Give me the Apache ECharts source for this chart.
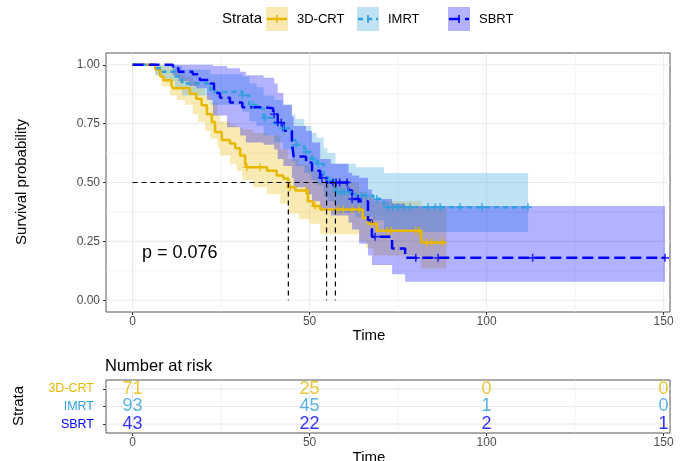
<!DOCTYPE html>
<html>
<head>
<meta charset="utf-8">
<script src="https://cdn.jsdelivr.net/npm/echarts@6/dist/echarts.min.js"></script>
<style>
  html, body { margin: 0; padding: 0; background: #fff; }
  #chart { width: 684px; height: 461px; }
</style>
</head>
<body>
<div id="chart"></div>
<script>
var groups = ['3D-CRT', 'IMRT', 'SBRT'];
var colors = ['#E7B800', '#2E9FDF', '#0000FF'];
var bandColors = ['rgba(231,184,0,0.3)', 'rgba(46,159,223,0.3)', 'rgba(0,0,255,0.3)'];

// Kaplan-Meier steps (time, survival)
var crtTime = [0, 6.4, 7.8, 8.7, 11, 11.5, 16.2, 18, 19.5, 21, 22.4, 23.3, 25.2, 27.5, 29, 30.4, 31.8, 32.3, 38, 40.7, 42.6, 44, 46, 49.5, 51, 53, 65, 66.5, 69, 81.5, 88.6];
var crtSurv = [1, 0.98, 0.95, 0.934, 0.913, 0.90, 0.877, 0.856, 0.828, 0.79, 0.757, 0.714, 0.68, 0.666, 0.645, 0.615, 0.58, 0.565, 0.55, 0.53, 0.517, 0.48, 0.466, 0.42, 0.40, 0.385, 0.35, 0.325, 0.295, 0.245, 0.245];
var imrtTime = [0, 6.5, 8.5, 12, 14, 22, 31, 33, 35, 37, 40, 42.5, 45, 46, 48.5, 50.5, 52, 54, 55, 57.3, 63, 68, 71, 111.7];
var imrtSurv = [1, 0.985, 0.97, 0.95, 0.92, 0.885, 0.87, 0.83, 0.815, 0.775, 0.75, 0.73, 0.68, 0.66, 0.63, 0.60, 0.58, 0.53, 0.51, 0.46, 0.445, 0.43, 0.395, 0.395];
var sbrtTime = [0, 11.4, 13, 17, 19, 22, 23, 24.7, 27.5, 31, 37, 39.7, 41, 42.6, 45, 45.5, 49, 50.7, 53, 54.8, 61, 62, 64, 66.5, 67.6, 73.3, 77, 150.4];
var sbrtSurv = [1, 0.985, 0.97, 0.96, 0.935, 0.92, 0.88, 0.86, 0.84, 0.82, 0.815, 0.79, 0.755, 0.72, 0.67, 0.61, 0.585, 0.55, 0.52, 0.50, 0.466, 0.43, 0.42, 0.34, 0.27, 0.22, 0.18, 0.18];

// confidence bands
var crtBandTime = [0, 6.4, 8.2, 10.6, 12.5, 14.8, 17, 18.5, 20.5, 22, 24, 24.7, 27.5, 29.4, 31, 34, 38, 41.7, 44, 47, 50, 53, 64, 66, 68, 81.5, 88.6];
var crtLower = [1, 0.955, 0.91, 0.87, 0.85, 0.83, 0.79, 0.757, 0.72, 0.687, 0.65, 0.615, 0.58, 0.55, 0.51, 0.48, 0.45, 0.41, 0.367, 0.345, 0.325, 0.28, 0.25, 0.22, 0.19, 0.135, 0.135];
var crtUpper = [1, 1, 0.995, 0.985, 0.97, 0.95, 0.93, 0.90, 0.87, 0.84, 0.79, 0.76, 0.745, 0.735, 0.725, 0.71, 0.70, 0.64, 0.60, 0.575, 0.55, 0.50, 0.46, 0.44, 0.42, 0.39, 0.39];
var imrtLower = [1, 0.955, 0.93, 0.90, 0.87, 0.83, 0.80, 0.76, 0.74, 0.70, 0.67, 0.64, 0.59, 0.57, 0.54, 0.51, 0.49, 0.44, 0.42, 0.37, 0.355, 0.34, 0.29, 0.29];
var imrtUpper = [1, 1, 1, 0.995, 0.98, 0.96, 0.95, 0.92, 0.905, 0.87, 0.85, 0.83, 0.79, 0.77, 0.74, 0.71, 0.69, 0.645, 0.625, 0.58, 0.565, 0.565, 0.54, 0.54];
var sbrtBandTime = [0, 11.4, 13, 16, 18, 21, 22.7, 26.7, 30.4, 32, 37, 40, 41, 42.6, 45, 45.5, 49, 50.7, 53, 56, 61, 62, 64, 66.5, 67.6, 73.3, 77, 150.4];
var sbrtLower = [1, 0.955, 0.93, 0.91, 0.90, 0.85, 0.785, 0.735, 0.70, 0.67, 0.66, 0.64, 0.60, 0.57, 0.52, 0.48, 0.45, 0.42, 0.39, 0.36, 0.33, 0.30, 0.24, 0.19, 0.15, 0.11, 0.078, 0.078];
var sbrtUpper = [1, 1, 1, 1, 1, 1, 0.995, 0.985, 0.97, 0.955, 0.945, 0.92, 0.88, 0.83, 0.78, 0.74, 0.72, 0.67, 0.60, 0.58, 0.54, 0.53, 0.52, 0.47, 0.43, 0.41, 0.40, 0.40];

// censoring times
var crtCensor = [32.3, 36, 44.5, 49, 51.5, 58, 59.5, 62, 64, 67.5, 72, 73, 80, 81, 83, 84.5, 87.5];
var imrtCensor = [31, 34, 37.5, 42.6, 46.2, 49, 51, 52.5, 55.5, 57.8, 58.8, 59.8, 61, 64.5, 66, 69, 72, 73.5, 75, 76.4, 78.4, 83.5, 85.5, 86.9, 92.5, 98.7, 111.7];
var sbrtCensor = [40, 41, 42, 53.5, 56.6, 57.5, 58.5, 60.6, 62, 63.7, 68.5, 80, 86.3, 113, 150.4];

var medianTimes = [44.0, 57.3, 54.8];
var pValueText = 'p = 0.076';

// number at risk
var riskTimes = [0, 50, 100, 150];
var riskCrt = [71, 25, 0, 0];
var riskImrt = [93, 45, 1, 0];
var riskSbrt = [43, 22, 2, 1];

var xTicks = [0, 50, 100, 150];
var xMinor = [25, 75, 125];
var yTicks = [0, 0.25, 0.5, 0.75, 1];
var yMinor = [0.125, 0.375, 0.625, 0.875];

var FONT = '"Liberation Sans", Arial, sans-serif';
var X_RANGE = [-7.5, 151.8];
var Y_RANGE = [-0.05, 1.05];
var PLUS = 'path://M-0.2,-1H0.2V-0.2H1V0.2H0.2V1H-0.2V0.2H-1V-0.2H-0.2Z';
var dashes = ['solid', [5, 4], [11, 5]];

function survAt(times, surv, t) {
  var s = surv[0];
  for (var i = 0; i < times.length; i++) {
    if (times[i] <= t) s = surv[i];
  }
  return s;
}

function gridSeries(idx, vLines, hLines, yRange) {
  var data = [];
  vLines.forEach(function (v) { data.push([0, v[0], v[1]]); });
  hLines.forEach(function (h) { data.push([1, h[0], h[1]]); });
  return {
    type: 'custom', xAxisIndex: idx, yAxisIndex: idx, z: 0, silent: true,
    data: data,
    renderItem: function (params, api) {
      var o = api.value(0), v = api.value(1), major = api.value(2);
      var p1, p2;
      if (o === 0) {
        p1 = api.coord([v, yRange[0]]); p2 = api.coord([v, yRange[1]]);
      } else {
        p1 = api.coord([X_RANGE[0], v]); p2 = api.coord([X_RANGE[1], v]);
      }
      return {
        type: 'line',
        shape: { x1: p1[0], y1: p1[1], x2: p2[0], y2: p2[1] },
        style: { stroke: '#EBEBEB', lineWidth: major ? 1.1 : 0.6 }
      };
    }
  };
}

function bandSeries(times, lower, upper, fill) {
  return {
    type: 'custom', xAxisIndex: 0, yAxisIndex: 0, z: 1, silent: true, clip: true,
    data: times.map(function (t, i) { return [t, lower[i], upper[i]]; }),
    encode: { x: 0, y: [1, 2] },
    renderItem: function (params, api) {
      if (params.dataIndex !== 0) return null;
      var pts = [];
      var n = times.length;
      for (var i = 0; i < n; i++) {
        pts.push(api.coord([times[i], upper[i]]));
        if (i < n - 1) pts.push(api.coord([times[i + 1], upper[i]]));
      }
      for (var j = n - 1; j >= 0; j--) {
        if (j < n - 1) pts.push(api.coord([times[j + 1], lower[j]]));
        pts.push(api.coord([times[j], lower[j]]));
      }
      return { type: 'polygon', shape: { points: pts }, style: { fill: fill } };
    }
  };
}

function curveSeries(name, times, surv, g) {
  return {
    name: name, type: 'line', step: 'end', z: 2, silent: true,
    xAxisIndex: 0, yAxisIndex: 0, showSymbol: false, symbol: 'none',
    data: times.map(function (t, i) { return [t, surv[i]]; }),
    lineStyle: { color: colors[g], width: 2.5, type: dashes[g] }
  };
}

function censorSeries(times, surv, censor, g) {
  return {
    type: 'scatter', z: 3, silent: true, xAxisIndex: 0, yAxisIndex: 0,
    symbol: PLUS, symbolSize: 8,
    itemStyle: { color: colors[g] },
    data: censor.map(function (t) { return [t, survAt(times, surv, t)]; })
  };
}

function riskSeries(counts, g) {
  return {
    type: 'scatter', xAxisIndex: 1, yAxisIndex: 1, z: 3, silent: true,
    symbolSize: 1, itemStyle: { color: 'rgba(0,0,0,0)' },
    data: riskTimes.map(function (t, i) { return [t, g + 1, counts[i]]; }),
    label: {
      show: true, position: 'inside', fontFamily: FONT, fontSize: 18, color: colors[g],
      formatter: function (p) { return String(p.value[2]); }
    }
  };
}

var medianSeries = {
  type: 'custom', xAxisIndex: 0, yAxisIndex: 0, z: 4, silent: true,
  data: medianTimes.map(function (m) { return [m, 0.5]; }),
  renderItem: function (params, api) {
    var m = api.value(0);
    var top = api.coord([m, 0.5]);
    var bottom = api.coord([m, 0]);
    var style = { stroke: '#000', lineWidth: 1.2, lineDash: [5, 4] };
    var children = [{ type: 'line', shape: { x1: top[0], y1: top[1], x2: bottom[0], y2: bottom[1] }, style: style }];
    if (params.dataIndex === 0) {
      var a = api.coord([0, 0.5]);
      var b = api.coord([Math.max.apply(null, medianTimes), 0.5]);
      children.push({ type: 'line', shape: { x1: a[0], y1: a[1], x2: b[0], y2: b[1] }, style: style });
    }
    return { type: 'group', children: children };
  }
};

var mainV = xTicks.map(function (v) { return [v, 1]; }).concat(xMinor.map(function (v) { return [v, 0]; }));
var mainH = yTicks.map(function (v) { return [v, 1]; }).concat(yMinor.map(function (v) { return [v, 0]; }));
var riskH = [[1, 1], [2, 1], [3, 1]];

function xAxisDef(gridIndex) {
  return {
    type: 'value', gridIndex: gridIndex, min: X_RANGE[0], max: X_RANGE[1], position: 'bottom',
    axisLine: { show: false, onZero: false }, splitLine: { show: false },
    axisTick: { show: true, customValues: xTicks, length: 3, lineStyle: { color: '#333', width: 1 } },
    axisLabel: { customValues: xTicks, color: '#4D4D4D', fontSize: 12, fontFamily: FONT, margin: 4 }
  };
}

// legend
var legendEls = [{
  type: 'text', x: 222, y: 19,
  style: { text: 'Strata', fontSize: 15, fontFamily: FONT, fill: '#000', verticalAlign: 'middle' }
}];
var keyX = [266, 357, 448];
groups.forEach(function (name, g) {
  var kx = keyX[g];
  legendEls.push({ type: 'rect', shape: { x: kx, y: 7, width: 22, height: 24 }, style: { fill: bandColors[g] } });
  legendEls.push({
    type: 'line', shape: { x1: kx + 1, y1: 19, x2: kx + 21, y2: 19 },
    style: { stroke: colors[g], lineWidth: 2.5, lineDash: g === 0 ? null : dashes[g] }
  });
  legendEls.push({
    type: 'line', shape: { x1: kx + 11, y1: 15, x2: kx + 11, y2: 23 },
    style: { stroke: colors[g], lineWidth: 1.6 }
  });
  legendEls.push({
    type: 'text', x: kx + 31, y: 19,
    style: { text: name, fontSize: 13, fontFamily: FONT, fill: '#000', verticalAlign: 'middle' }
  });
});

var chart = echarts.init(document.getElementById('chart'));
var option = {
  animation: false,
  backgroundColor: '#fff',
  grid: [
    { left: 106, top: 53, width: 564, height: 259, show: true, borderColor: '#555', borderWidth: 1 },
    { left: 106, top: 380, width: 564, height: 53, show: true, borderColor: '#555', borderWidth: 1 }
  ],
  xAxis: [xAxisDef(0), xAxisDef(1)],
  yAxis: [
    {
      type: 'value', gridIndex: 0, min: Y_RANGE[0], max: Y_RANGE[1], position: 'left',
      axisLine: { show: false, onZero: false }, splitLine: { show: false },
      axisTick: { show: true, customValues: yTicks, length: 3, lineStyle: { color: '#333', width: 1 } },
      axisLabel: {
        customValues: yTicks, color: '#4D4D4D', fontSize: 12, fontFamily: FONT, margin: 6,
        formatter: function (v) { return v.toFixed(2); }
      }
    },
    {
      type: 'value', gridIndex: 1, min: 0.5, max: 3.5, inverse: true, position: 'left',
      axisLine: { show: false, onZero: false }, splitLine: { show: false },
      axisTick: { show: true, customValues: [1, 2, 3], length: 3, lineStyle: { color: '#333', width: 1 } },
      axisLabel: {
        customValues: [1, 2, 3], margin: 12,
        formatter: function (v) { var i = Math.round(v) - 1; return '{g' + i + '|' + groups[i] + '}'; },
        rich: {
          g0: { color: colors[0], fontSize: 12.5, fontFamily: FONT },
          g1: { color: colors[1], fontSize: 12.5, fontFamily: FONT },
          g2: { color: colors[2], fontSize: 12.5, fontFamily: FONT }
        }
      }
    }
  ],
  graphic: legendEls.concat([
    { type: 'text', x: 142, y: 253, style: { text: pValueText, fontSize: 18, fontFamily: FONT, fill: '#000', verticalAlign: 'middle' } },
    { type: 'text', x: 22, y: 182, rotation: Math.PI / 2, style: { text: 'Survival probability', fontSize: 15, fontFamily: FONT, fill: '#000', align: 'center', verticalAlign: 'middle' } },
    { type: 'text', x: 369, y: 336, style: { text: 'Time', fontSize: 15, fontFamily: FONT, fill: '#000', align: 'center', verticalAlign: 'middle' } },
    { type: 'text', x: 105, y: 366, style: { text: 'Number at risk', fontSize: 16.5, fontFamily: FONT, fill: '#000', verticalAlign: 'middle' } },
    { type: 'text', x: 19, y: 406, rotation: Math.PI / 2, style: { text: 'Strata', fontSize: 15, fontFamily: FONT, fill: '#000', align: 'center', verticalAlign: 'middle' } },
    { type: 'text', x: 369, y: 458, style: { text: 'Time', fontSize: 15, fontFamily: FONT, fill: '#000', align: 'center', verticalAlign: 'middle' } }
  ]),
  series: [
    gridSeries(0, mainV, mainH, Y_RANGE),
    gridSeries(1, mainV, riskH, [0.5, 3.5]),
    bandSeries(crtBandTime, crtLower, crtUpper, bandColors[0]),
    bandSeries(imrtTime, imrtLower, imrtUpper, bandColors[1]),
    bandSeries(sbrtBandTime, sbrtLower, sbrtUpper, bandColors[2]),
    curveSeries('3D-CRT', crtTime, crtSurv, 0),
    curveSeries('IMRT', imrtTime, imrtSurv, 1),
    curveSeries('SBRT', sbrtTime, sbrtSurv, 2),
    censorSeries(crtTime, crtSurv, crtCensor, 0),
    censorSeries(imrtTime, imrtSurv, imrtCensor, 1),
    censorSeries(sbrtTime, sbrtSurv, sbrtCensor, 2),
    medianSeries,
    riskSeries(riskCrt, 0),
    riskSeries(riskImrt, 1),
    riskSeries(riskSbrt, 2)
  ]
};
chart.setOption(option);
window.onresize = chart.resize;
</script>
</body>
</html>
